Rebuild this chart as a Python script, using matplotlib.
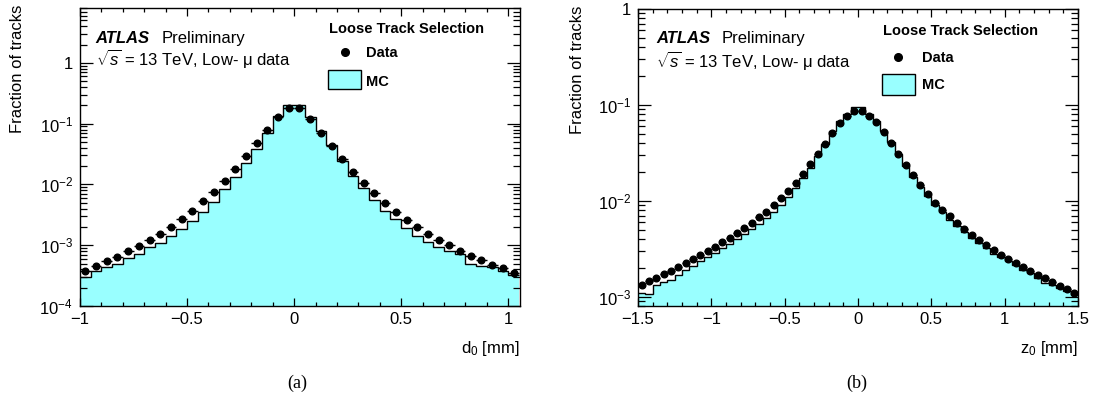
import numpy as np
import matplotlib
matplotlib.use("Agg")
import matplotlib.pyplot as plt
from matplotlib.ticker import MultipleLocator, LogLocator, FuncFormatter, NullFormatter
from matplotlib.patches import Rectangle

plt.rcParams['font.family'] = ['Liberation Sans', 'DejaVu Sans']
plt.rcParams['mathtext.fontset'] = 'custom'
plt.rcParams['mathtext.rm'] = 'Liberation Sans'
plt.rcParams['mathtext.it'] = 'Liberation Sans:italic'
plt.rcParams['mathtext.bf'] = 'Liberation Sans:bold'

# --- d0 panel (bins of 0.05 mm from -1.0 to 1.05) ---
d0_edges = np.linspace(-1.0, 1.05, 42)
d0_data = [3.8e-4, 4.6e-4, 5.4e-4, 6.5e-4, 7.9e-4, 9.8e-4, 1.23e-3, 1.52e-3, 2.0e-3, 2.75e-3,
           3.7e-3, 5.3e-3, 7.6e-3, 1.13e-2, 1.77e-2, 2.9e-2, 4.8e-2, 7.9e-2, 0.130, 0.183,
           0.179, 0.120, 0.071, 0.043, 0.026, 0.0162, 0.0104, 0.0072, 0.0050, 0.0035,
           0.0026, 0.00196, 0.00152, 0.00122, 0.00101, 0.00081, 0.00066, 0.00057, 0.00048,
           0.00042, 0.00035]
d0_mc = [3.0e-4, 3.8e-4, 4.4e-4, 5.0e-4, 6.1e-4, 7.3e-4, 9.2e-4, 1.07e-3, 1.41e-3, 1.82e-3,
         2.53e-3, 3.55e-3, 5.2e-3, 8.3e-3, 1.34e-2, 2.23e-2, 3.9e-2, 0.070, 0.133, 0.202,
         0.202, 0.130, 0.077, 0.045, 0.024, 0.014, 0.0087, 0.0056, 0.0037, 0.0027,
         0.00195, 0.00144, 0.00113, 0.00095, 0.00080, 0.00072, 0.00050, 0.00045, 0.00043,
         0.00038, 0.00032]

# --- z0 panel (bins of 0.05 mm from -1.5 to 1.5) ---
z0_edges = np.linspace(-1.5, 1.5, 61)
z0_data = [1.31e-3, 1.45e-3, 1.58e-3, 1.72e-3, 1.87e-3, 2.05e-3, 2.25e-3, 2.48e-3, 2.73e-3, 3.0e-3,
           3.33e-3, 3.69e-3, 4.1e-3, 4.6e-3, 5.2e-3, 5.9e-3, 6.8e-3, 7.7e-3, 9.0e-3, 1.07e-2,
           1.28e-2, 1.55e-2, 1.92e-2, 2.4e-2, 3.05e-2, 3.9e-2, 5.1e-2, 6.4e-2, 7.6e-2, 8.6e-2,
           8.6e-2, 7.66e-2, 6.56e-2, 5.2e-2, 3.97e-2, 3.05e-2, 2.35e-2, 1.86e-2, 1.47e-2, 1.18e-2,
           9.6e-3, 8.1e-3, 6.87e-3, 5.9e-3, 5.08e-3, 4.44e-3, 3.94e-3, 3.49e-3, 3.07e-3, 2.75e-3,
           2.48e-3, 2.25e-3, 2.02e-3, 1.84e-3, 1.67e-3, 1.55e-3, 1.42e-3, 1.29e-3, 1.19e-3, 1.10e-3]
z0_mc = [1.10e-3, 1.08e-3, 1.31e-3, 1.42e-3, 1.51e-3, 1.70e-3, 1.89e-3, 2.11e-3, 2.34e-3, 2.58e-3,
         2.86e-3, 3.23e-3, 3.55e-3, 4.0e-3, 4.5e-3, 5.1e-3, 5.7e-3, 6.6e-3, 7.6e-3, 9.0e-3,
         1.09e-2, 1.35e-2, 1.72e-2, 2.2e-2, 2.95e-2, 3.9e-2, 5.3e-2, 6.8e-2, 8.1e-2, 9.5e-2,
         9.5e-2, 8.1e-2, 6.8e-2, 5.4e-2, 4.1e-2, 3.1e-2, 2.3e-2, 1.78e-2, 1.4e-2, 1.12e-2,
         9.1e-3, 7.6e-3, 6.24e-3, 5.5e-3, 4.73e-3, 4.1e-3, 3.64e-3, 3.23e-3, 2.82e-3, 2.6e-3,
         2.34e-3, 2.13e-3, 1.92e-3, 1.75e-3, 1.58e-3, 1.40e-3, 1.34e-3, 1.24e-3, 1.14e-3, 1.03e-3]

MC_FILL = '#99ffff'


def xfmt(v, pos):
    s = '%g' % round(v, 3)
    return s.replace('-', '\u2212')


def yfmt(v, pos):
    e = int(round(np.log10(v)))
    if e == 0:
        return '1'
    return r'$10^{%d}$' % e


def draw_panel(ax, edges, data, mc, xlim, ylim, xlabel, title_x, ylabel_x, txt):
    centers = 0.5 * (edges[1:] + edges[:-1])
    halfw = 0.5 * np.diff(edges)

    ax.stairs(mc, edges, baseline=ylim[0] * 0.1, fill=True, color=MC_FILL, lw=0)
    ax.stairs(mc, edges, baseline=None, color='black', lw=1.0)
    ax.errorbar(centers, data, xerr=halfw, fmt='o', color='black', ms=4.8,
                elinewidth=1.0, capsize=0)

    ax.set_yscale('log')
    ax.set_xlim(*xlim)
    ax.set_ylim(*ylim)

    ax.xaxis.set_major_locator(MultipleLocator(0.5))
    ax.xaxis.set_minor_locator(MultipleLocator(0.1))
    ax.xaxis.set_major_formatter(FuncFormatter(xfmt))
    ax.yaxis.set_major_locator(LogLocator(base=10, numticks=20))
    ax.yaxis.set_minor_locator(LogLocator(base=10, subs=np.arange(2, 10), numticks=20))
    ax.yaxis.set_major_formatter(FuncFormatter(yfmt))
    ax.yaxis.set_minor_formatter(NullFormatter())

    ax.tick_params(which='both', direction='in', top=True, right=True, labelsize=12)
    ax.tick_params(axis='x', which='major', length=6, width=0.9, pad=4)
    ax.tick_params(axis='x', which='minor', length=3, width=0.9)
    ax.tick_params(axis='y', which='major', length=9.5, width=0.9, pad=5)
    ax.tick_params(axis='y', which='minor', length=5, width=0.9)
    for sp in ax.spines.values():
        sp.set_linewidth(1.0)

    ax.set_xlabel(xlabel, fontsize=12, ha='right')
    ax.xaxis.set_label_coords(1.0, -0.112)
    ax.set_ylabel('Fraction of tracks', fontsize=12, loc='top')
    ax.yaxis.set_label_coords(ylabel_x, 1.01)

    # ATLAS label
    ax.text(txt['atlas_x'], txt['atlas_y'], 'ATLAS', transform=ax.transAxes,
            fontsize=12, fontweight='bold', fontstyle='italic')
    ax.text(txt['prel_x'], txt['atlas_y'], 'Preliminary', transform=ax.transAxes, fontsize=12)
    ax.text(txt['atlas_x'], txt['sqrt_y'], r'$\sqrt{s}$ = 13 TeV, Low- μ data',
            transform=ax.transAxes, fontsize=12)

    # legend
    ax.text(title_x, txt['title_y'], 'Loose Track Selection', transform=ax.transAxes,
            fontsize=10.5, fontweight='bold')
    ax.plot([txt['mk_x']], [txt['mk_y']], 'o', color='black', ms=5.5, transform=ax.transAxes,
            clip_on=False)
    ax.text(txt['lab_x'], txt['data_y'], 'Data', transform=ax.transAxes,
            fontsize=10.5, fontweight='bold')
    ax.add_patch(Rectangle((txt['box'][0], txt['box'][1]), txt['box'][2], txt['box'][3],
                           transform=ax.transAxes, facecolor=MC_FILL, edgecolor='black', lw=1.0))
    ax.text(txt['lab_x'], txt['mc_y'], 'MC', transform=ax.transAxes,
            fontsize=10.5, fontweight='bold')


fig = plt.figure(figsize=(10.93, 4.11), dpi=100)
ax1 = fig.add_axes([80 / 1093, 1 - 306 / 411, 440 / 1093, 298 / 411])
ax2 = fig.add_axes([638 / 1093, 1 - 306 / 411, 440 / 1093, 297 / 411])

txt1 = dict(atlas_x=0.036, prel_x=0.186, atlas_y=0.884, sqrt_y=0.808,
            title_y=0.916, mk_x=0.602, mk_y=0.852, lab_x=0.650, data_y=0.836,
            box=(0.564, 0.728, 0.075, 0.064), mc_y=0.738)
txt2 = dict(atlas_x=0.042, prel_x=0.190, atlas_y=0.884, sqrt_y=0.806,
            title_y=0.912, mk_x=0.592, mk_y=0.838, lab_x=0.645, data_y=0.822,
            box=(0.555, 0.710, 0.075, 0.071), mc_y=0.731)

draw_panel(ax1, d0_edges, d0_data, d0_mc, (-1.0, 1.055), (1e-4, 8.0),
           r'd$_0$ [mm]', 0.566, -0.125, txt1)
draw_panel(ax2, z0_edges, z0_data, z0_mc, (-1.5, 1.5), (8e-4, 1.0),
           r'z$_0$ [mm]', 0.556, -0.12, txt2)

fig.text(297 / 1093, 1 - 383 / 411, '(a)', ha='center', va='center', fontsize=13,
         family='Liberation Serif')
fig.text(857 / 1093, 1 - 383 / 411, '(b)', ha='center', va='center', fontsize=13,
         family='Liberation Serif')

fig.savefig('out.png', dpi=100)
